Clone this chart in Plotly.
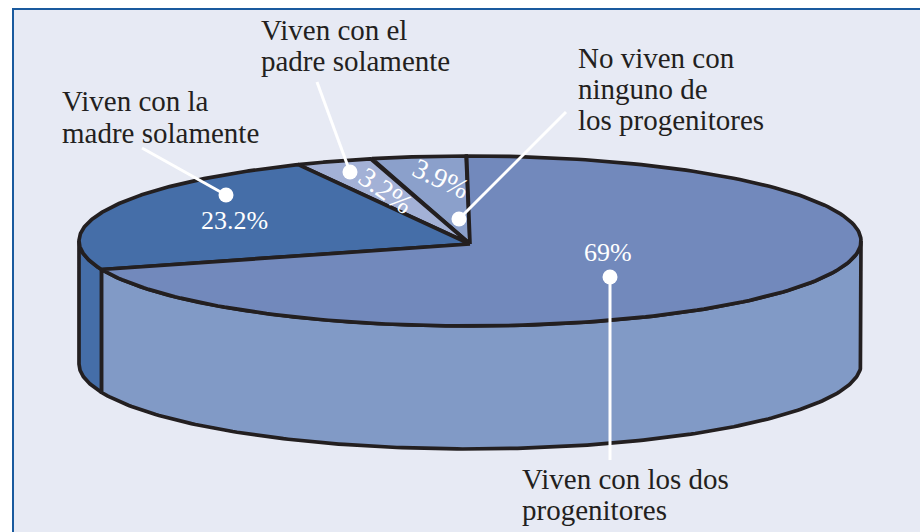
import numpy as np
import plotly.graph_objects as go

# slices, going counterclockwise from the top of the pie
label_lines = [["No viven con", "ninguno de", "los progenitores"],
               ["Viven con el", "padre solamente"],
               ["Viven con la", "madre solamente"],
               ["Viven con los dos", "progenitores"]]
values = [3.9, 3.2, 23.2, 69]
pct_text = ["3.9%", "3.2%", "23.2%", "69%"]

top_colors = ["#8ba0cb", "#a3b1d6", "#456ea8", "#7289bc"]
side_colors = ["#8ba0cb", "#a3b1d6", "#456ea8", "#819ac6"]

label_x = [576, 259, 60, 520]
label_y = [[58, 89, 120], [30, 61], [101, 133], [479, 510]]
pct_pos = [(441, 178), (386, 190), (234, 220), (608, 252)]
pct_angle = [25, 35, 0, 0]
pct_size = [28, 28, 26, 26]
leader_from = [(566, 112), (317, 82), (142, 148), (610, 460)]
leader_to = [(459, 219), (350, 172), (226, 195), (610, 277)]

# pie shape, in page pixels
cx, cy, rx, ry = 470, 241, 391, 85
apex = (470, 244)
depth = 123
start = 90.5
edge = "#231f20"
font = "Liberation Serif"

# the last slice just takes what is left of the circle
bounds = list(np.concatenate([[start], start + 3.6 * np.cumsum(values[:-1]), [start + 360]]))


def rim(a, b, drop=0):
    t = np.radians(np.linspace(a, b, 200))
    return cx + rx * np.cos(t), cy + drop - ry * np.sin(t)


fig = go.Figure()


def add_poly(x, y, fill):
    fig.add_trace(go.Scatter(x=x, y=y, mode="lines", fill="toself", fillcolor=fill,
                             line=dict(color=edge, width=3.7), hoverinfo="skip"))


# side wall: only the front half (180 to 360) can be seen
for i in range(len(values)):
    a, b = max(bounds[i], 180), min(bounds[i + 1], 360)
    if a >= b:
        continue
    x1, y1 = rim(a, b)
    x2, y2 = rim(b, a, depth)
    add_poly(list(x1) + list(x2) + [x1[0]], list(y1) + list(y2) + [y1[0]], side_colors[i])

# top of the pie
for i in range(len(values)):
    x1, y1 = rim(bounds[i], bounds[i + 1])
    add_poly([apex[0]] + list(x1) + [apex[0]], [apex[1]] + list(y1) + [apex[1]], top_colors[i])

# white leaders with a dot on the slice end
for p, q in zip(leader_from, leader_to):
    fig.add_trace(go.Scatter(x=[p[0], q[0]], y=[p[1], q[1]], mode="lines",
                             line=dict(color="white", width=3), hoverinfo="skip"))
    fig.add_trace(go.Scatter(x=[q[0]], y=[q[1]], mode="markers",
                             marker=dict(color="white", size=15), hoverinfo="skip"))

for lines, x, ys in zip(label_lines, label_x, label_y):
    for txt, y in zip(lines, ys):
        fig.add_annotation(x=x, y=y, text=txt, showarrow=False, xanchor="left", yanchor="middle",
                           font=dict(family=font, size=29, color="#231f20"))

for txt, pos, ang, size in zip(pct_text, pct_pos, pct_angle, pct_size):
    fig.add_annotation(x=pos[0], y=pos[1], text=txt, showarrow=False, textangle=ang,
                       font=dict(family=font, size=size, color="white"))

# panel behind the chart
fig.add_shape(type="rect", x0=13, y0=9, x1=925, y1=540, layer="below",
              fillcolor="#e7eaf4", line=dict(color="#1a5a9e", width=2))

fig.update_layout(width=920, height=532, margin=dict(l=0, r=0, t=0, b=0),
                  paper_bgcolor="white", plot_bgcolor="white", showlegend=False,
                  xaxis=dict(range=[0, 920], visible=False),
                  yaxis=dict(range=[532, 0], visible=False))

# page has a default body margin, drop it so the figure sits at 0,0
fig.write_html("out.html", config={"displayModeBar": False},
               post_script="document.body.style.margin = '0';")
